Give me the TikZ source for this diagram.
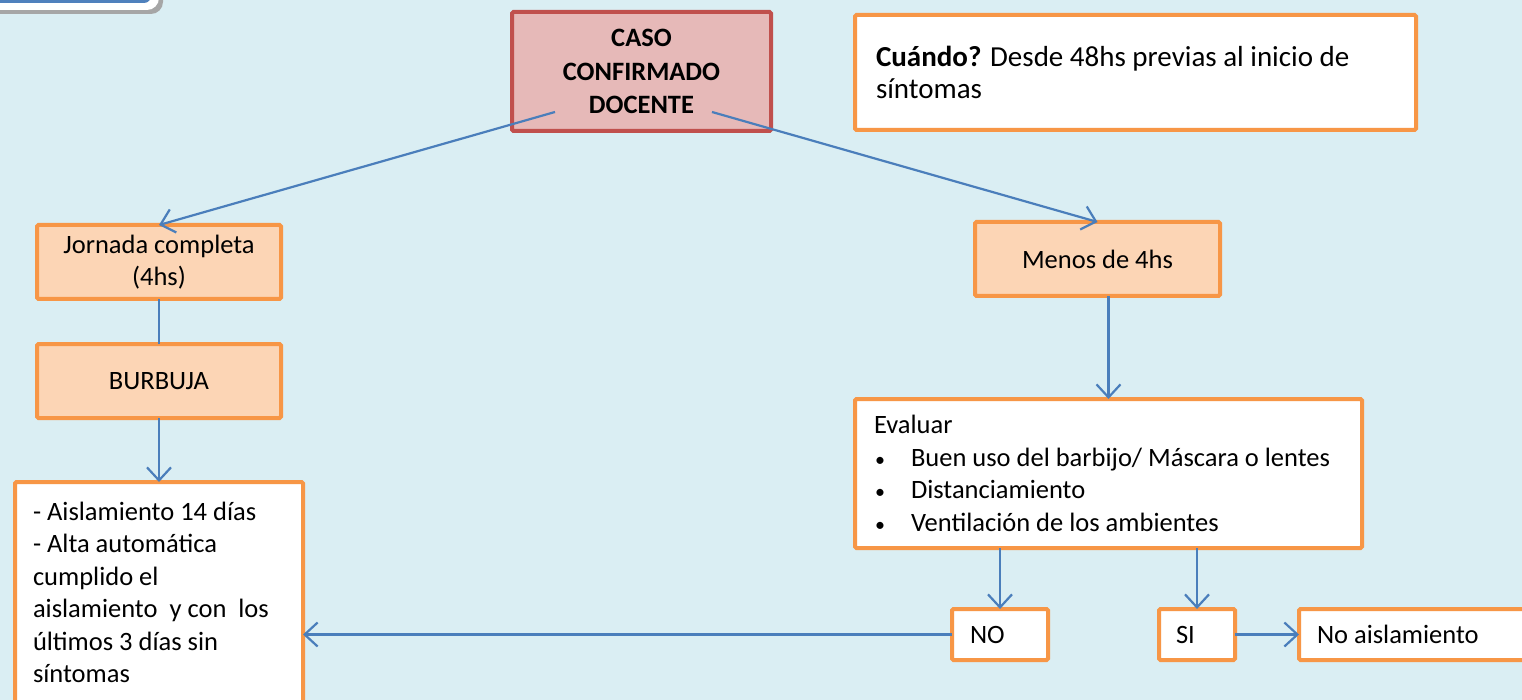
\documentclass[tikz,border=0pt]{standalone}
\usepackage{fontspec}
\setmainfont{Carlito}
\usetikzlibrary{arrows.meta}
\definecolor{bgC}{HTML}{DAEEF3}
\definecolor{orgC}{HTML}{F79646}
\definecolor{peachC}{HTML}{FCD5B5}
\definecolor{casoF}{HTML}{E6B9B8}
\definecolor{casoD}{HTML}{C0504D}
\definecolor{arrC}{HTML}{4A7EBB}
\definecolor{topC}{HTML}{4F81BD}
\newcommand{\bul}{\hspace*{1pt}\makebox[36pt][l]{\fontsize{20}{20}\selectfont•}}
\begin{document}
\begin{tikzpicture}[x=1pt,y=-1pt,
  font=\fontsize{26.5}{32.5}\selectfont,
  box/.style={draw=orgC, line width=4pt, rounded corners=1.5pt, anchor=north west, inner sep=0pt, outer sep=0pt},
  peach/.style={box, fill=peachC, align=center},
  wbox/.style={box, fill=white, align=flush left},
  conn/.style={draw=arrC, line width=2.2pt},
  arr/.style={conn, -{Straight Barb[length=13pt,width=24pt,line width=2.2pt]}}
]
\useasboundingbox (0,0) rectangle (1522,700);
\clip (0,0) rectangle (1522,700);
\fill[bgC] (0,0) rectangle (1522,700);

% partial box at top left
\fill[black!35, rounded corners=12pt] (-60,-80) rectangle (163,14);
\fill[white, rounded corners=12pt] (-60,-80) rectangle (159,10);
\fill[topC, rounded corners=7pt] (-60,-80) rectangle (151,3);

% nodes
\node[box, draw=casoD, fill=casoF, align=center, minimum width=259pt, minimum height=119pt, font=\fontsize{26.5}{33.5}\selectfont\bfseries] (caso) at (512,12) {CASO\\CONFIRMADO\\DOCENTE};
\node[wbox, minimum width=561pt, minimum height=115pt, inner xsep=21pt, text width=519pt, font=\fontsize{29}{32.5}\selectfont] (cuando) at (855,15) {\textbf{Cuándo?} Desde 48hs previas al inicio de\\síntomas};
\node[peach, minimum width=244pt, minimum height=74pt] (jornada) at (37,225) {Jornada completa\\(4hs)};
\node[peach, minimum width=244pt, minimum height=74pt] (burbuja) at (37,344) {BURBUJA};
\node[wbox, minimum width=288pt, inner xsep=18pt, inner ysep=20pt, text width=252pt] (aisla) at (15,482) {- Aislamiento 14 días\\- Alta automática\\cumplido el\\aislamiento\ \ y con\ \ los\\últimos 3 días sin\\síntomas};
\node[peach, minimum width=245pt, minimum height=74pt] (menos) at (975,222) {Menos de 4hs};
\node[wbox, minimum width=507pt, minimum height=149pt, inner xsep=19pt, text width=469pt] (evaluar) at (855,399) {Evaluar\\\bul Buen uso del barbijo/ Máscara o lentes\\\bul Distanciamiento\\\bul Ventilación de los ambientes};
\node[wbox, minimum width=96pt, minimum height=51pt, inner xsep=18pt, text width=60pt] (no) at (952,609) {NO};
\node[wbox, minimum width=76pt, minimum height=51pt, inner xsep=17pt, text width=42pt] (si) at (1159,609) {SI};
\node[wbox, minimum width=240pt, minimum height=51pt, inner xsep=18pt, text width=204pt] (noais) at (1299,609) {No aislamiento};

% connectors
\coordinate (c1) at (555,112);
\coordinate (c2) at (712,112);
\draw[arr] (c1) -- (jornada.north);
\draw[arr] (c2) -- (menos.north);
\draw[conn] (jornada.south) -- (burbuja.north);
\draw[arr] (burbuja.south) -- (burbuja.south |- aisla.north);
\draw[arr] (evaluar.north |- menos.south) -- (evaluar.north);
\draw[arr] (no.north |- evaluar.south) -- (no.north);
\draw[arr] (si.north |- evaluar.south) -- (si.north);
\draw[arr] (no.west) -- (no.west -| aisla.east);
\draw[arr] (si.east) -- (noais.west);
\end{tikzpicture}
\end{document}
